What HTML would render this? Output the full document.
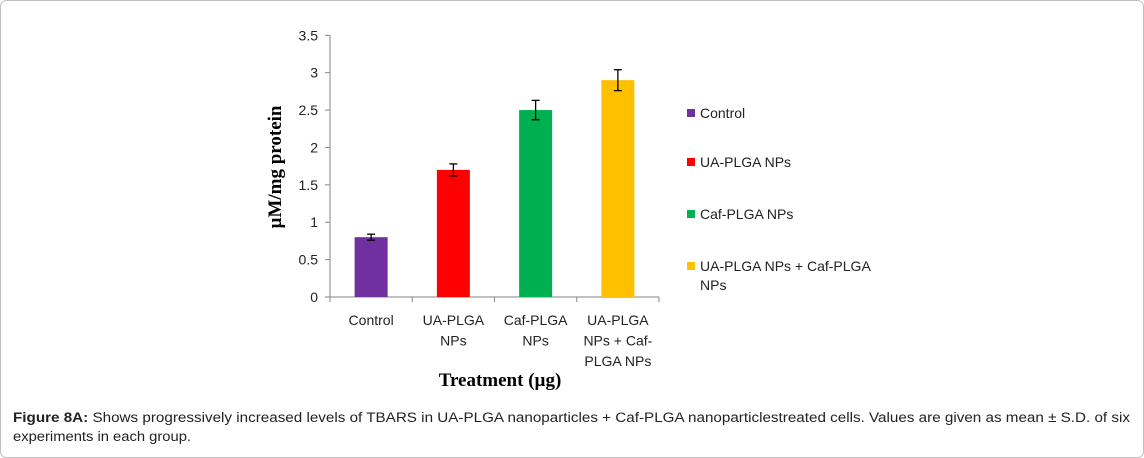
<!DOCTYPE html>
<html><head><meta charset="utf-8"><style>
body{margin:0;background:#fff;}
svg{display:block;font-family:"Liberation Sans",Arial,sans-serif;}
</style></head><body>
<svg id="chart" width="1144" height="458" viewBox="0 0 1144 458">
<rect x="0.5" y="0.5" width="1143" height="457" rx="6" fill="#fff" stroke="#bfbfbf"/>
<g id="axes"></g>
<g id="bars"></g>
<g id="legend"></g>
<text x="0" y="0" transform="translate(281,167) rotate(-90)" text-anchor="middle" font-family="Liberation Serif,serif" font-weight="bold" font-size="19" fill="#000">µM/mg protein</text>
<text x="500" y="386" text-anchor="middle" font-family="Liberation Serif,serif" font-weight="bold" font-size="19" fill="#000">Treatment (µg)</text>
<text x="13" y="422" font-size="13.5" textLength="1117" lengthAdjust="spacingAndGlyphs" fill="#222"><tspan font-weight="bold">Figure 8A:</tspan> Shows progressively increased levels of TBARS in UA-PLGA nanoparticles + Caf-PLGA nanoparticlestreated cells. Values are given as mean ± S.D. of six</text>
<text x="13" y="441" font-size="13.5" textLength="178" lengthAdjust="spacingAndGlyphs" fill="#222">experiments in each group.</text>
</svg>
<script>
const categories=[["Control"],["UA-PLGA","NPs"],["Caf-PLGA","NPs"],["UA-PLGA","NPs + Caf-","PLGA NPs"]];
const values=[0.8,1.7,2.5,2.9];
const errors=[0.04,0.08,0.13,0.14];
const colors=["#7030a0","#ff0000","#00b050","#ffc000"];
const legendLabels=[["Control"],["UA-PLGA NPs"],["Caf-PLGA NPs"],["UA-PLGA NPs + Caf-PLGA","NPs"]];
const yTicks=[0,0.5,1,1.5,2,2.5,3,3.5];
const NS="http://www.w3.org/2000/svg";
const x0=330,x1=659,y0=297,yTop=35.3,yMax=3.5;
const band=(x1-x0)/categories.length,barW=33;
const yS=v=>y0-(v/yMax)*(y0-yTop);
function mk(tag,attrs,parent,txt){const e=document.createElementNS(NS,tag);for(const k in attrs)e.setAttribute(k,attrs[k]);if(txt!=null)e.textContent=txt;parent.appendChild(e);return e;}
const axes=document.getElementById('axes'),bars=document.getElementById('bars'),legend=document.getElementById('legend');
let l=mk('line',{x1:x0,y1:yTop,x2:x0,y2:y0,stroke:'#868686'},axes);


l=mk('line',{x1:x0,y1:y0,x2:x1,y2:y0,stroke:'#868686'},axes);


yTicks.forEach(t=>{const y=yS(t);
 mk('line',{x1:x0-5,y1:y,x2:x0,y2:y,stroke:'#868686'},axes);
 const tx=mk('text',{x:x0-12,y:y+5,'text-anchor':'end','font-size':14,fill:'#222'},axes,String(t));
 
 
});
for(let i=0;i<=categories.length;i++){const x=x0+i*band;mk('line',{x1:x,y1:y0,x2:x,y2:y0+5,stroke:'#868686'},axes);}
categories.forEach((c,i)=>{const cx=x0+band*(i+0.5);
 c.forEach((ln,j)=>{const tx=mk('text',{x:cx,y:325+j*20.5,'text-anchor':'middle','font-size':14,fill:'#222'},axes,ln);
  
  });
 const v=values[i],yv=yS(v);
 const r=mk('rect',{x:cx-barW/2,y:yv,width:barW,height:y0-yv,fill:colors[i]},bars);
 
 
 const yh=yS(v+errors[i]),yl=yS(v-errors[i]);
 const g=mk('g',{stroke:'#000','stroke-width':1.3},bars);
 
 
 mk('line',{x1:cx,y1:yh,x2:cx,y2:yl},g);
 mk('line',{x1:cx-4,y1:yh,x2:cx+4,y2:yh},g);
 mk('line',{x1:cx-4,y1:yl,x2:cx+4,y2:yl},g);
});
const legY=[113,162,214,266];
legendLabels.forEach((lab,i)=>{
 const g=mk('g',{},legend);
 
 
 mk('rect',{x:687,y:legY[i]-4,width:8,height:8,fill:colors[i]},g);
 lab.forEach((ln,j)=>mk('text',{x:700,y:legY[i]+5+j*19,'font-size':14,fill:'#222'},g,ln));
});
</script>
</body></html>
